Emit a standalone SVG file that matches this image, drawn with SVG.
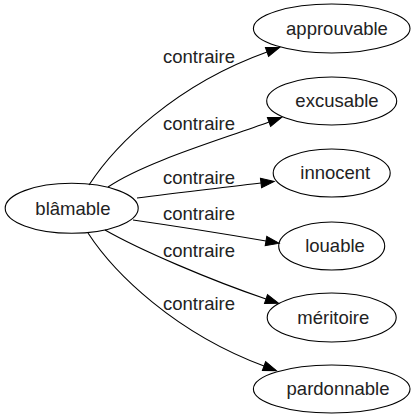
<svg xmlns="http://www.w3.org/2000/svg" width="416" height="419" viewBox="0 0 416 419">
<style>
.node ellipse{fill:none;stroke:#000;stroke-width:1.1}
.edge path{fill:none;stroke:#000;stroke-width:1.1}
text{font-family:"Liberation Sans",Arial,sans-serif;font-size:18.5px;fill:#222;text-anchor:middle}
</style>
<defs>
<marker id="arr" markerUnits="userSpaceOnUse" markerWidth="16" markerHeight="12" refX="0" refY="4.7" orient="auto" overflow="visible">
<path d="M0,0 L13.3,4.7 L0,9.4 Z" fill="#000" stroke="#000" stroke-width="1"/>
</marker>
</defs>
<rect width="416" height="419" fill="#fff"/>
<g id="edges" class="edge">
<path d="M89,185 C115,145 175,85 267,52" marker-end="url(#arr)"/>
<path d="M108,187 C145,162 220,140 269,122" marker-end="url(#arr)"/>
<path d="M137,198 C175,193 220,188 261,183" marker-end="url(#arr)"/>
<path d="M133,220 C175,226 225,234 266,241" marker-end="url(#arr)"/>
<path d="M105,230 C140,250 210,280 266,299" marker-end="url(#arr)"/>
<path d="M88,233 C114,273 175,333 264,366" marker-end="url(#arr)"/>
</g>
<g id="edge-labels">
<text x="199" y="63">contraire</text>
<text x="199" y="130">contraire</text>
<text x="199" y="184">contraire</text>
<text x="199" y="220">contraire</text>
<text x="199" y="257">contraire</text>
<text x="199" y="310">contraire</text>
</g>
<g id="node-blamable" class="node">
<ellipse cx="71.7" cy="208.3" rx="66.5" ry="25"/>
<text x="72.9" y="215">blâmable</text>
</g>
<g id="node-approuvable" class="node">
<ellipse cx="331.7" cy="28.5" rx="78.3" ry="24.5"/>
<text x="337" y="35">approuvable</text>
</g>
<g id="node-excusable" class="node">
<ellipse cx="331.7" cy="101" rx="65" ry="24"/>
<text x="337" y="107">excusable</text>
</g>
<g id="node-innocent" class="node">
<ellipse cx="331.7" cy="173" rx="58.5" ry="24"/>
<text x="335.3" y="179">innocent</text>
</g>
<g id="node-louable" class="node">
<ellipse cx="331.7" cy="246" rx="53" ry="24"/>
<text x="335" y="252">louable</text>
</g>
<g id="node-meritoire" class="node">
<ellipse cx="331.7" cy="317.5" rx="64.5" ry="24.5"/>
<text x="333.3" y="323.5">méritoire</text>
</g>
<g id="node-pardonnable" class="node">
<ellipse cx="331.7" cy="389" rx="78.3" ry="24"/>
<text x="338" y="395">pardonnable</text>
</g>
</svg>
